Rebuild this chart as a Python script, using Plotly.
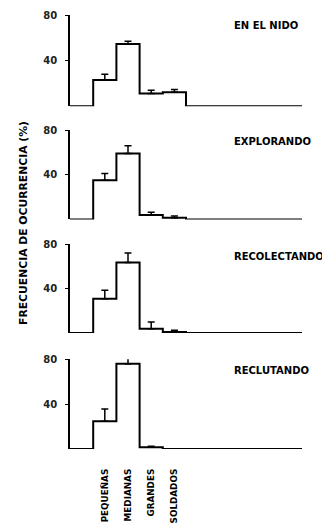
import plotly.graph_objects as go

categories = ["PEQUEÑAS", "MEDIANAS", "GRANDES", "SOLDADOS"]
panel_titles = ["EN EL NIDO", "EXPLORANDO", "RECOLECTANDO", "RECLUTANDO"]

nido_vals = [23, 54.5, 11, 12.3]
nido_err = [5, 2.5, 3, 2.4]
explorando_vals = [35, 59, 4, 1.5]
explorando_err = [6, 7, 2.5, 1.5]
recolectando_vals = [31, 63.5, 4, 1]
recolectando_err = [7.5, 8.5, 6, 1.5]
reclutando_vals = [24.6, 76, 1.5, 0]
reclutando_err = [11, 9.5, 1, 0]

y_ticks = [40, 80]
y_title = "FRECUENCIA DE OCURRENCIA (%)"

series = [
    (nido_vals, nido_err),
    (explorando_vals, explorando_err),
    (recolectando_vals, recolectando_err),
    (reclutando_vals, reclutando_err),
]

N_SLOTS = 10  # category slots along x axis (1 empty slot before the bars)
FONT = "DejaVu Sans, Verdana, sans-serif"

domains = [[0.790, 1.0], [0.529, 0.735], [0.267, 0.472], [0.0, 0.207]]
title_y = [0.975, 0.708, 0.443, 0.180]

fig = go.Figure()
n = len(categories)
centers = [i + 1.5 for i in range(n)]

for k, (vals, errs) in enumerate(series):
    xa = "x" if k == 0 else f"x{k+1}"
    ya = "y" if k == 0 else f"y{k+1}"
    step_x = [0] + [i + 1 for i in range(n)] + [n + 1, N_SLOTS]
    step_y = [0] + list(vals) + [0, 0]
    fig.add_trace(go.Scatter(
        x=step_x, y=step_y, mode="lines", line_shape="hv",
        line=dict(color="black", width=2), xaxis=xa, yaxis=ya,
        showlegend=False, cliponaxis=False, hoverinfo="skip"))
    ex = [c for c, e in zip(centers, errs) if e > 0]
    ey = [v for v, e in zip(vals, errs) if e > 0]
    ee = [e for e in errs if e > 0]
    fig.add_trace(go.Scatter(
        x=ex, y=ey, mode="markers", marker=dict(size=0.1, color="black"),
        error_y=dict(type="data", array=ee, arrayminus=[0] * len(ee),
                     symmetric=False, color="black", thickness=1.5, width=3.5),
        xaxis=xa, yaxis=ya, showlegend=False, cliponaxis=False))

# The page body adds an 8px offset, so the figure is 8px smaller than the window
layout = dict(
    width=322, height=523,
    margin=dict(l=62, r=28, t=7, b=82, autoexpand=False),
    paper_bgcolor="white", plot_bgcolor="white",
    font=dict(family=FONT, color="black", size=10),
    showlegend=False,
)

for k in range(4):
    xkey = "xaxis" if k == 0 else f"xaxis{k+1}"
    ykey = "yaxis" if k == 0 else f"yaxis{k+1}"
    yanchor = "x" if k == 0 else f"x{k+1}"
    xanchor = "y" if k == 0 else f"y{k+1}"
    last = (k == 3)
    layout[xkey] = dict(
        domain=[0, 1], range=[0, N_SLOTS], anchor=xanchor,
        showgrid=False, zeroline=False, showline=False, automargin=False,
        showticklabels=last,
        tickvals=centers if last else [],
        ticktext=[f"<b>{c}</b>" for c in categories] if last else [],
        tickangle=-90, ticks="",
        tickfont=dict(family=FONT, size=8.8, color="black"),
        ticklabelstandoff=17,
    )
    layout[ykey] = dict(
        domain=domains[k], range=[0, 80], anchor=yanchor,
        showgrid=False, zeroline=False, showline=True, automargin=False,
        linecolor="black", linewidth=1.5,
        tickvals=y_ticks, ticktext=[f"<b>{t}</b>" for t in y_ticks],
        ticks="outside", ticklen=3, tickwidth=1.2, tickcolor="black",
        tickfont=dict(family=FONT, size=10, color="#222"),
        ticklabelstandoff=6,
    )

annotations = []
for k, t in enumerate(panel_titles):
    annotations.append(dict(
        text=f"<b>{t}</b>", x=0.698, y=title_y[k], xref="paper", yref="paper",
        xanchor="left", yanchor="middle", showarrow=False,
        font=dict(family=FONT, size=10, color="black")))
annotations.append(dict(
    text=f"<b>{y_title}</b>", x=-0.198, y=0.521, xref="paper", yref="paper",
    xanchor="center", yanchor="middle", textangle=-90, showarrow=False,
    font=dict(family=FONT, size=10.8, color="black")))
layout["annotations"] = annotations

fig.update_layout(**layout)
fig.write_html("out.html")
